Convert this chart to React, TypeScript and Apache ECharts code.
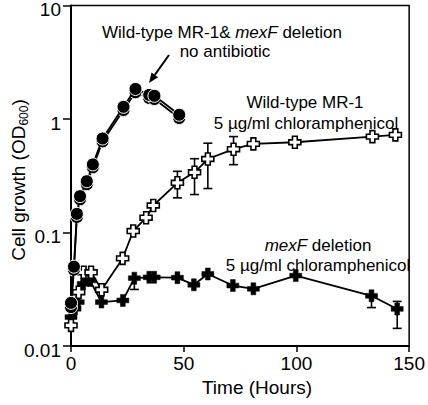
import React, { useEffect, useRef } from "react";
import * as echarts from "echarts";

// ---- data (time in hours, OD600) ----
const yTickLabels = ["0.01", "0.1", "1", "10"];
const xTicks = [0, 50, 100, 150];

// Wild-type MR-1, no antibiotic (filled circles)
const wtNoAbT = [0, 1.3, 2.6, 4, 7, 9.7, 14, 23.3, 28.6, 34.7, 37, 48];
const wtNoAbV = [0.024, 0.05, 0.146, 0.209, 0.283, 0.398, 0.673, 1.28, 1.84, 1.63, 1.6, 1.09];
// mexF deletion, no antibiotic (filled circles, overlapping)
const mexNoAbT = [0, 1.3, 2.6, 4, 7, 9.7, 14, 23.3, 28.6, 34.7, 37, 48];
const mexNoAbV = [0.022, 0.047, 0.137, 0.196, 0.266, 0.375, 0.635, 1.2, 1.72, 1.53, 1.5, 1.02];

// Wild-type MR-1, 5 ug/ml chloramphenicol (open crosses)
const wtCamT = [0, 3.4, 5.6, 8.9, 13.6, 22.9, 27.6, 33.3, 36.5, 47.2, 54.8, 60.7, 72.1, 80.9, 99.3, 133.7, 143.9];
const wtCamV = [0.0152, 0.0298, 0.0446, 0.0446, 0.0313, 0.0591, 0.103, 0.135, 0.173, 0.274, 0.339, 0.444, 0.542, 0.604, 0.624, 0.7, 0.724];
const wtCamErrT = [47.2, 54.8, 60.7, 72.1];
const wtCamErrLow = [0.202, 0.216, 0.244, 0.396];
const wtCamErrHigh = [0.346, 0.447, 0.612, 0.7];

// mexF deletion, 5 ug/ml chloramphenicol (filled crosses)
const mexCamT = [0, 1.8, 3.2, 5.4, 8.4, 13.5, 23, 28.1, 34.7, 36.9, 47.2, 54.5, 60.7, 71.8, 80.9, 99.7, 133.3, 144.7];
const mexCamV = [0.018, 0.0213, 0.0244, 0.0353, 0.0378, 0.0244, 0.0252, 0.0396, 0.0403, 0.0403, 0.04, 0.0346, 0.0431, 0.0341, 0.0319, 0.0417, 0.0277, 0.0212];
const mexCamErrT = [28.1, 133.3, 144.7];
const mexCamErrLow = [0.0315, 0.0218, 0.0143];
const mexCamErrHigh = [0.0396, 0.0277, 0.0247];

const FONT = "'Liberation Sans', Arial, Helvetica, sans-serif";
const PLUS = "path://M3,0H7V3H10V7H7V10H3V7H0V3H3Z";

const zip = (a: number[], b: number[]) => a.map((v, i) => [v, b[i]]);
const zip3 = (a: number[], b: number[], c: number[]) => a.map((v, i) => [v, b[i], c[i]]);

function errorBarSeries(data: number[][]) {
  return {
    type: "custom",
    z: 1,
    clip: false,
    encode: { x: 0, y: [1, 2] },
    data,
    renderItem: (_p: any, api: any) => {
      const x = api.value(0);
      const lo = api.coord([x, api.value(1)]);
      const hi = api.coord([x, api.value(2)]);
      const w = 4.5;
      const style = { stroke: "#000", lineWidth: 1.6 };
      return {
        type: "group",
        children: [
          { type: "line", shape: { x1: hi[0], y1: hi[1], x2: lo[0], y2: lo[1] }, style },
          { type: "line", shape: { x1: hi[0] - w, y1: hi[1], x2: hi[0] + w, y2: hi[1] }, style },
          { type: "line", shape: { x1: lo[0] - w, y1: lo[1], x2: lo[0] + w, y2: lo[1] }, style },
        ],
      };
    },
  };
}

export default function App() {
  const ref = useRef<HTMLDivElement>(null);
  useEffect(() => {
    if (!ref.current) return;
    const chart = echarts.init(ref.current, undefined, { renderer: "svg" });
    const axisLine = { show: true, onZero: false, lineStyle: { color: "#000", width: 2 } };
    const option: any = {
      animation: false,
      grid: { left: 71, top: 3, right: 15, bottom: 59, show: true, borderColor: "#000", borderWidth: 1.5 },
      xAxis: {
        type: "value",
        min: xTicks[0],
        max: xTicks[xTicks.length - 1],
        interval: 50,
        axisLine,
        axisTick: { show: true, length: 6, lineStyle: { color: "#000", width: 1.5 } },
        axisLabel: { color: "#000", fontSize: 19, fontFamily: FONT, margin: 8 },
        splitLine: { show: false },
      },
      yAxis: {
        type: "log",
        logBase: 10,
        min: 0.01,
        max: 10,
        axisLine,
        axisTick: { show: true, length: 8, lineStyle: { color: "#000", width: 1.5 } },
        axisLabel: {
          color: "#000",
          fontSize: 19,
          fontFamily: FONT,
          margin: 10,
          verticalAlign: "top",
          lineHeight: 8,
          formatter: (v: number) => yTickLabels[Math.round(Math.log10(v)) + 2] ?? "",
        },
        splitLine: { show: false },
        minorTick: { show: false },
      },
      series: [
        errorBarSeries(zip3(wtCamErrT, wtCamErrLow, wtCamErrHigh)),
        errorBarSeries(zip3(mexCamErrT, mexCamErrLow, mexCamErrHigh)),
        {
          type: "line",
          z: 2,
          clip: false,
          data: zip(mexCamT, mexCamV),
          symbol: PLUS,
          symbolSize: 12,
          lineStyle: { color: "#000", width: 1.8 },
          itemStyle: { color: "#000", borderColor: "#000", borderWidth: 0.5 },
        },
        {
          type: "line",
          z: 3,
          clip: false,
          data: zip(wtCamT, wtCamV),
          symbol: PLUS,
          symbolSize: 12,
          showAllSymbol: true,
          lineStyle: { color: "#000", width: 1.8 },
          itemStyle: { color: "#fff", borderColor: "#000", borderWidth: 1.6 },
        },
        {
          type: "line",
          z: 4,
          clip: false,
          data: zip(mexNoAbT, mexNoAbV),
          symbol: "circle",
          symbolSize: 13,
          lineStyle: { color: "#000", width: 1.8 },
          itemStyle: { color: "#000", borderColor: "#fff", borderWidth: 1 },
        },
        {
          type: "line",
          z: 5,
          clip: false,
          data: zip(wtNoAbT, wtNoAbV),
          symbol: "circle",
          symbolSize: 13,
          lineStyle: { color: "#000", width: 1.8 },
          itemStyle: { color: "#000", borderColor: "#fff", borderWidth: 1 },
        },
      ],
      graphic: [
        {
          type: "text",
          x: 18,
          y: 180,
          rotation: Math.PI / 2,
          style: {
            text: "{a|Cell growth (OD}{b|600}{a|)}",
            align: "center",
            verticalAlign: "middle",
            fill: "#000",
            rich: {
              a: { fontSize: 19, fontFamily: FONT, lineHeight: 24, fill: "#000" },
              b: { fontSize: 12, fontFamily: FONT, lineHeight: 12, verticalAlign: "bottom", fill: "#000" },
            },
          },
        },
        {
          type: "text",
          x: 257,
          y: 387,
          style: { text: "Time (Hours)", font: `19px ${FONT}`, fill: "#000", align: "center", verticalAlign: "middle" },
        },
        {
          type: "text",
          x: 222,
          y: 32,
          style: {
            text: "{a|Wild-type MR-1& }{i|mexF}{a| deletion}",
            align: "center",
            verticalAlign: "middle",
            rich: {
              a: { fontSize: 17, fontFamily: FONT, fill: "#000" },
              i: { fontSize: 17, fontFamily: FONT, fontStyle: "italic", fill: "#000" },
            },
          },
        },
        {
          type: "text",
          x: 225,
          y: 51,
          style: { text: "no antibiotic", font: `17px ${FONT}`, fill: "#000", align: "center", verticalAlign: "middle" },
        },
        {
          type: "text",
          x: 305,
          y: 102,
          style: { text: "Wild-type MR-1", font: `17px ${FONT}`, fill: "#000", align: "center", verticalAlign: "middle" },
        },
        {
          type: "text",
          x: 306,
          y: 123,
          style: { text: "5 µg/ml chloramphenicol", font: `17px ${FONT}`, fill: "#000", align: "center", verticalAlign: "middle" },
        },
        {
          type: "text",
          x: 318,
          y: 245,
          style: {
            text: "{i|mexF}{a| deletion}",
            align: "center",
            verticalAlign: "middle",
            rich: {
              a: { fontSize: 17, fontFamily: FONT, fill: "#000" },
              i: { fontSize: 17, fontFamily: FONT, fontStyle: "italic", fill: "#000" },
            },
          },
        },
        {
          type: "text",
          x: 318,
          y: 265,
          style: { text: "5 µg/ml chloramphenicol", font: `17px ${FONT}`, fill: "#000", align: "center", verticalAlign: "middle" },
        },
        {
          type: "line",
          shape: { x1: 169, y1: 55, x2: 154.8, y2: 74.9 },
          style: { stroke: "#000", lineWidth: 2 },
        },
        {
          type: "polygon",
          shape: { points: [[149, 83], [158.1, 77.2], [151.5, 72.6]] },
          style: { fill: "#000" },
        },
      ],
    };
    chart.setOption(option);
    return () => chart.dispose();
  }, []);
  return (
    <div
      ref={ref}
      style={{ position: "fixed", left: 0, top: 0, width: 428, height: 405, background: "#fff" }}
    />
  );
}
